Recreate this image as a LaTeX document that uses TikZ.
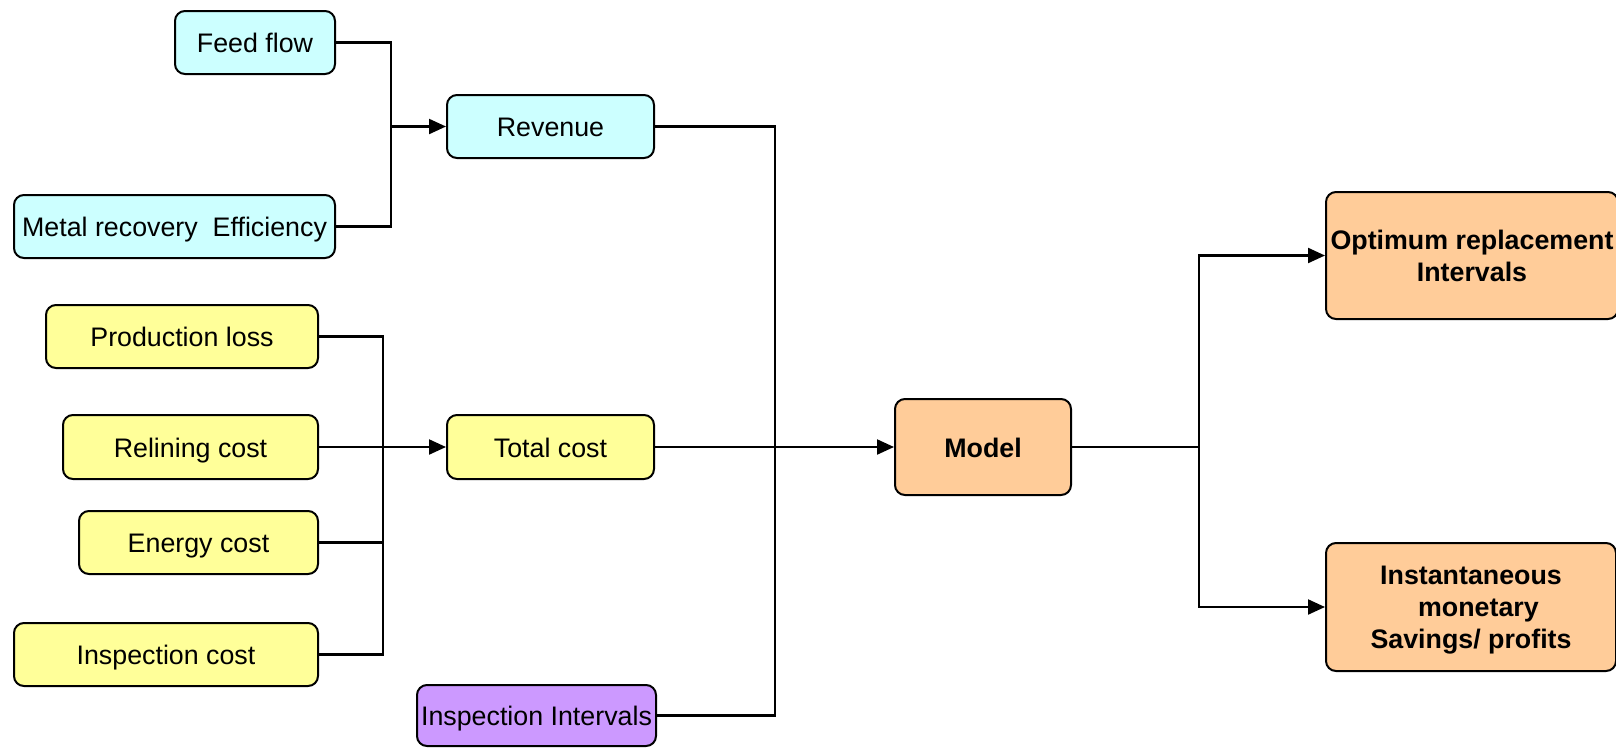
\documentclass[tikz,border=0pt]{standalone}
\usepackage{fontspec}
\setmainfont{Liberation Sans}
\usetikzlibrary{arrows.meta}
\definecolor{boxcyan}{HTML}{CCFFFF}
\definecolor{boxyellow}{HTML}{FFFF99}
\definecolor{boxorange}{HTML}{FFCC99}
\definecolor{boxpurple}{HTML}{CC99FF}
\tikzset{
  x=1pt, y=-1pt,
  box/.style={draw=black, line width=2pt, rounded corners=10pt,
    inner sep=0pt, align=center, font=\fontsize{26.8}{32}\selectfont},
  oneline/.style={text height=22pt, text depth=2pt},
  boldbox/.style={box, fill=boxorange, font=\fontsize{26.8}{32}\selectfont\bfseries},
  wire/.style={line width=2.2pt},
  feed/.style={wire, -{Triangle[length=17pt,width=15pt]}}
}
\begin{document}
\begin{tikzpicture}
\useasboundingbox (0,0) rectangle (1616,747);

% revenue inputs
\node[box, oneline, fill=boxcyan, minimum width=160pt, minimum height=63pt] (feedflow) at (255,42.5) {Feed flow};
\node[box, oneline, fill=boxcyan, minimum width=321pt, minimum height=63pt] (metal) at (174.5,226.5) {Metal recovery\ \ Efficiency};
\node[box, oneline, fill=boxcyan, minimum width=207pt, minimum height=63pt] (revenue) at (550.5,126.5) {Revenue};

% cost inputs
\node[box, oneline, fill=boxyellow, minimum width=272pt, minimum height=63pt] (prodloss) at (182,336.5) {Production loss};
\node[box, oneline, fill=boxyellow, minimum width=255pt, minimum height=64pt] (relining) at (190.5,447) {Relining cost};
\node[box, oneline, fill=boxyellow, minimum width=239pt, minimum height=63pt] (energy) at (198.5,542.5) {Energy cost};
\node[box, oneline, fill=boxyellow, minimum width=304pt, minimum height=63pt] (inspcost) at (166,654.5) {Inspection cost};
\node[box, oneline, fill=boxyellow, minimum width=207pt, minimum height=64pt] (totalcost) at (550.5,447) {Total cost};

\node[box, oneline, fill=boxpurple, minimum width=239pt, minimum height=61pt] (inspint) at (536.5,715.5) {Inspection Intervals};

% model and outputs
\node[boldbox, oneline, minimum width=176pt, minimum height=96pt] (model) at (983,447) {Model};
\node[boldbox, minimum width=292pt, minimum height=127pt] (optimum) at (1472,255.5) {Optimum replacement\\Intervals};
\node[boldbox, minimum width=290pt, minimum height=128pt] (instant) at (1471,607) {\rule{0pt}{25.5pt}Instantaneous\\\ \ monetary\\Savings/ profits};

% junction points
\coordinate (jrev) at (391,126.5);
\coordinate (jcost) at (383,447);
\coordinate (jmodel) at (775,447);
\coordinate (jout) at (1199,447);

% revenue branch
\draw[wire] (feedflow.east) -| (jrev);
\draw[wire] (metal.east) -| (jrev);
\draw[feed] (jrev) -- (revenue.west);

% cost branch
\draw[wire] (prodloss.east) -| (jcost);
\draw[wire] (inspcost.east) -| (jcost);
\draw[wire] (energy.east) -- (energy.east -| jcost);
\draw[feed] (relining.east) -- (totalcost.west);

% model inputs
\draw[wire] (revenue.east) -| (jmodel);
\draw[wire] (inspint.east) -| (jmodel);
\draw[feed] (totalcost.east) -- (model.west);

% model outputs
\draw[wire] (model.east) -- (jout);
\draw[feed] (jout) |- (optimum.west);
\draw[feed] (jout) |- (instant.west);
\end{tikzpicture}
\end{document}
